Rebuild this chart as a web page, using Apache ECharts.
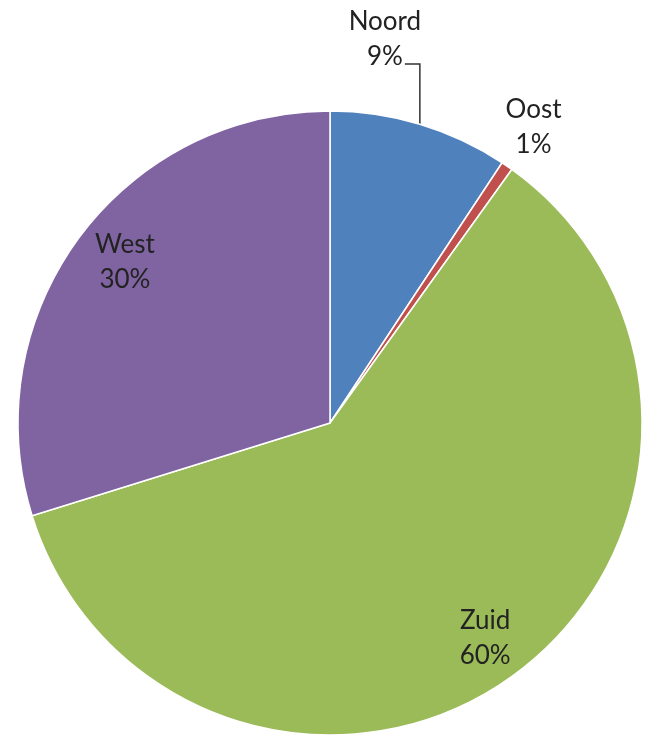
<!DOCTYPE html>
<html>
<head>
<meta charset="utf-8">
<script src="https://cdn.jsdelivr.net/npm/echarts@6/dist/echarts.min.js"></script>
<style>html,body{margin:0;padding:0;background:#fff}#c{width:651px;height:745px}</style>
</head>
<body>
<div id="c"></div>
<script>
const categories = ['Noord', 'Oost', 'Zuid', 'West'];
const values = [9.3, 0.6, 60.3, 29.8];
const colors = ['#4F81BD', '#C0504D', '#9BBB59', '#8064A2'];

const CX = 330, CY = 423, R = 312;
const total = values.reduce((a, b) => a + b, 0);
const midAngles = [];
let cum = 0;
values.forEach(v => { midAngles.push(2 * Math.PI * (cum + v / 2) / total); cum += v; });

const chart = echarts.init(document.getElementById('c'), null, { renderer: 'canvas' });
chart.setOption({
  backgroundColor: '#fff',
  animation: false,
  series: [{
    type: 'pie',
    center: [CX, CY],
    radius: [0, R],
    startAngle: 90,
    clockwise: true,
    avoidLabelOverlap: false,
    itemStyle: { borderColor: '#fff', borderWidth: 1.5 },
    label: {
      show: true,
      position: 'outside',
      fontFamily: 'Lato',
      fontSize: 26,
      lineHeight: 35,
      color: '#222',
      formatter: p => p.name + '\n' + Math.round(p.percent) + '%'
    },
    labelLine: { show: false, lineStyle: { color: '#333', width: 1.5 } },
    emphasis: { disabled: true },
    data: categories.map((name, i) => ({
      name, value: values[i],
      itemStyle: { color: colors[i] },
      labelLine: { show: name === 'Noord', length: 20, length2: 10 }
    })),
    labelLayout: function (params) {
      const i = params.dataIndex;
      const name = categories[i];
      let a = midAngles[i];
      if (name === 'West') a += 0.03;
      const dx = Math.sin(a), dy = -Math.cos(a);
      if (name === 'Noord') {
        const ex = CX + R * dx, ey = CY + R * dy;
        const elbowY = CY - R - 47;
        return {
          x: ex - 35, y: elbowY - 25, align: 'center', verticalAlign: 'middle',
          labelLinePoints: [[ex, ey], [ex, elbowY], [ex - 15, elbowY]]
        };
      }
      const f = name === 'Oost' ? 1.15 : (name === 'Zuid' ? 0.85 : 0.835);
      return { x: CX + f * R * dx, y: CY + f * R * dy, align: 'center', verticalAlign: 'middle' };
    }
  }]
});
</script>
</body>
</html>
